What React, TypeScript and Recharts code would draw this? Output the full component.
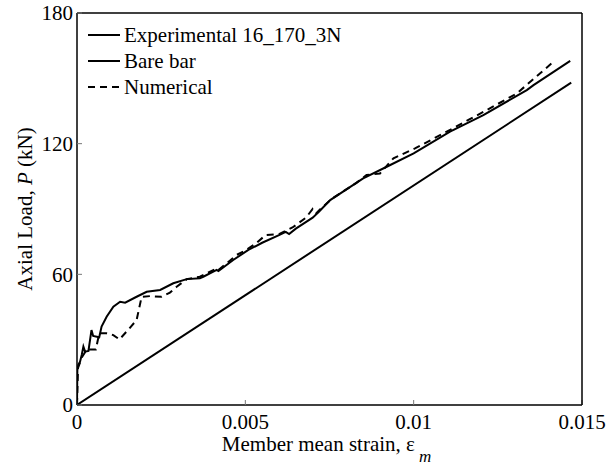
import { LineChart, Line, XAxis, YAxis } from "recharts";

// Experimental 16_170_3N (member mean strain, axial load kN)
const expStrain = [
    0, 0.00001, 0.00004, 0.00009, 0.00014, 0.00019, 0.00024, 0.00034, 0.00043, 0.00048,
    0.00066, 0.00073, 0.00088, 0.00108, 0.00128, 0.00143, 0.00177, 0.00207, 0.00247, 0.00286,
    0.00326, 0.00365, 0.00375, 0.00415, 0.0042, 0.00464, 0.00509, 0.0055, 0.006, 0.0062,
    0.0063, 0.0065, 0.007, 0.0072, 0.00752, 0.0085, 0.0092, 0.01, 0.01108, 0.01207,
    0.01336, 0.01356, 0.01465,
];
const expLoad = [
    0, 16, 18.4, 19.9, 23, 26.8, 24.5, 24.8, 34.4, 31.7,
    31.1, 36, 40.5, 45.1, 47.4, 47, 49.7, 52, 52.8, 55.9,
    57.8, 58.2, 58.9, 62, 61.5, 66.6, 71.2, 74.5, 78, 79.5,
    78.5, 81, 86, 89, 94.1, 104.1, 109.4, 115.5, 125.5, 133.1,
    144.6, 146.9, 158,
];

// Bare bar
const bareStrain = [0, 0.01468];
const bareLoad = [0, 148];

// Numerical
const numStrain = [
    0, 0.00003, 0.00015, 0.00029, 0.00056, 0.00066, 0.00088, 0.00108, 0.00126, 0.00153,
    0.00177, 0.00192, 0.00217, 0.00251, 0.00276, 0.00296, 0.00326, 0.00365, 0.00415, 0.0042,
    0.00444, 0.00474, 0.005, 0.0053, 0.0056, 0.006, 0.0062, 0.0064, 0.0068, 0.007,
    0.0071, 0.0073, 0.0076, 0.008, 0.0083, 0.0086, 0.009, 0.0094, 0.01004, 0.01098,
    0.01207, 0.01306, 0.01415,
];
const numLoad = [
    0, 17, 22, 25.5, 25.5, 32.9, 32.9, 32.1, 30.1, 34.7,
    39, 49.7, 50, 49.7, 51.6, 54.3, 57.8, 58.9, 62.7, 62,
    65, 68.9, 71, 74, 78, 78.5, 80, 81.5, 86, 90,
    88, 91, 95, 99, 102, 105.6, 106.3, 113.3, 117.8, 125.5,
    134.6, 143, 157.6,
];

const xTicks = [0, 0.005, 0.01, 0.015];
const yTicks = [0, 60, 120, 180];

const legendItems = [
    { name: "Experimental 16_170_3N", dash: undefined },
    { name: "Bare bar", dash: undefined },
    { name: "Numerical", dash: "7 5" },
];

const toPoints = (xs: number[], ys: number[]) => xs.map((x, i) => ({ x, y: ys[i] }));

const FONT = "'Liberation Serif', 'Times New Roman', serif";
const tickStyle = { fontSize: 21, fill: "#000", fontFamily: FONT };

function XTick({ x, y, payload }: any) {
    return (
        <text x={x} y={y + 27} textAnchor="middle" fontFamily={FONT} fontSize={21} fill="#000">
            {String(payload.value)}
        </text>
    );
}

function ChartLegend() {
    return (
        <div
            style={{
                position: "absolute",
                left: 86,
                top: 22,
                fontFamily: FONT,
                fontSize: 21,
                color: "#000",
                lineHeight: "26px",
            }}
        >
            {legendItems.map((item) => (
                <div key={item.name} style={{ display: "flex", alignItems: "center" }}>
                    <svg width={36} height={10} style={{ marginRight: 2 }}>
                        <line x1={2} y1={5} x2={34} y2={5} stroke="#000" strokeWidth={2} strokeDasharray={item.dash} />
                    </svg>
                    <span>{item.name}</span>
                </div>
            ))}
        </div>
    );
}

function XLabel({ viewBox }: any) {
    const cx = viewBox.x + viewBox.width / 2;
    return (
        <text x={cx - 3} y={viewBox.y + 46} textAnchor="middle" fontFamily={FONT} fontSize={21} fill="#000">
            Member mean strain, ε
            <tspan fontStyle="italic" fontSize={17} dx={4} dy={11}>m</tspan>
        </text>
    );
}

function YLabel({ viewBox }: any) {
    const cx = 25;
    const cy = viewBox.y + viewBox.height / 2;
    return (
        <text
            x={cx}
            y={cy}
            textAnchor="middle"
            dominantBaseline="central"
            transform={`rotate(-90, ${cx}, ${cy})`}
            fontFamily={FONT}
            fontSize={21}
            fill="#000"
        >
            Axial Load, <tspan fontStyle="italic">P</tspan> (kN)
        </text>
    );
}

export default function App() {
    return (
        <div style={{ position: "relative", width: 609, height: 468 }}>
            <style>{`body { margin: 0; } .recharts-surface { overflow: visible; }`}</style>
            <LineChart
                width={609}
                height={468}
                margin={{ top: 12, right: 17, left: 17, bottom: 23 }}
            >
                <XAxis
                    xAxisId="bottom"
                    dataKey="x"
                    type="number"
                    domain={[0, 0.015]}
                    ticks={xTicks}
                    allowDataOverflow
                    height={40}
                    tickSize={-5}
                    tick={<XTick />}
                    tickLine={{ stroke: "#777", strokeWidth: 1 }}
                    axisLine={{ stroke: "#000", strokeWidth: 1.5 }}
                    label={<XLabel />}
                />
                <XAxis
                    xAxisId="top"
                    orientation="top"
                    dataKey="x"
                    type="number"
                    domain={[0, 0.015]}
                    ticks={xTicks}
                    height={1}
                    tickSize={-5}
                    tickFormatter={() => ""}
                    tickLine={{ stroke: "#777", strokeWidth: 1 }}
                    axisLine={{ stroke: "#000", strokeWidth: 1.5 }}
                />
                <YAxis
                    yAxisId="left"
                    type="number"
                    domain={[0, 180]}
                    ticks={yTicks}
                    width={60}
                    tickSize={-5}
                    tickMargin={9}
                    tick={tickStyle}
                    tickLine={{ stroke: "#777", strokeWidth: 1 }}
                    axisLine={{ stroke: "#000", strokeWidth: 1.5 }}
                    label={<YLabel />}
                />
                <YAxis
                    yAxisId="right"
                    orientation="right"
                    type="number"
                    domain={[0, 180]}
                    ticks={yTicks}
                    width={10}
                    tickSize={-5}
                    tickFormatter={() => ""}
                    tickLine={{ stroke: "#777", strokeWidth: 1 }}
                    axisLine={{ stroke: "#000", strokeWidth: 1.5 }}
                />
                <Line
                    xAxisId="bottom"
                    yAxisId="left"
                    data={toPoints(bareStrain, bareLoad)}
                    dataKey="y"
                    name="Bare bar"
                    stroke="#000"
                    strokeWidth={2}
                    dot={false}
                    isAnimationActive={false}
                />
                <Line
                    xAxisId="bottom"
                    yAxisId="left"
                    data={toPoints(numStrain, numLoad)}
                    dataKey="y"
                    name="Numerical"
                    stroke="#000"
                    strokeWidth={2}
                    strokeDasharray="7 5"
                    dot={false}
                    isAnimationActive={false}
                />
                <Line
                    xAxisId="bottom"
                    yAxisId="left"
                    data={toPoints(expStrain, expLoad)}
                    dataKey="y"
                    name="Experimental 16_170_3N"
                    stroke="#000"
                    strokeWidth={2}
                    dot={false}
                    isAnimationActive={false}
                />
            </LineChart>
            <ChartLegend />
        </div>
    );
}
